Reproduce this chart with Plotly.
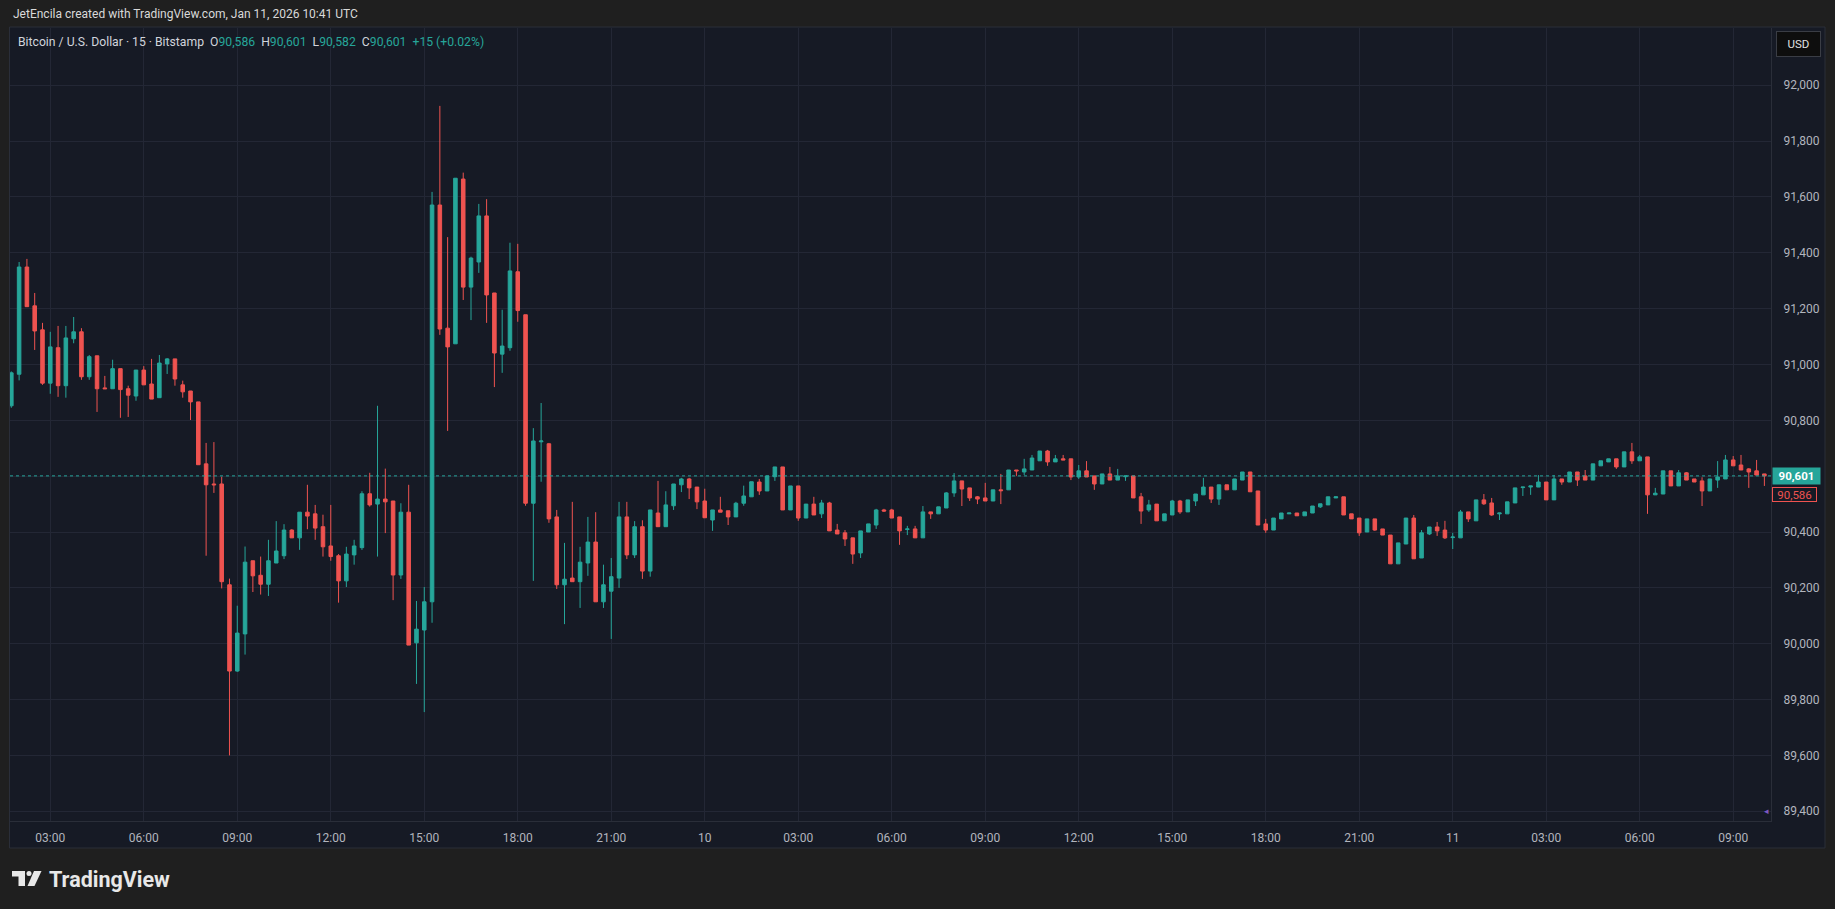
import pandas as pd
import plotly.graph_objects as go

# OHLC for each 15 minute candle
opens = [
    90852, 90965, 91349, 91210, 91124, 90933, 91060, 90924, 91092, 91117,
    90956, 91031, 90916, 90913, 90985, 90913, 90887, 90980, 90930, 90881,
    91002, 91020, 90927, 90905, 90866, 90644, 90572, 90572, 90211, 89902,
    90035, 90297, 90245, 90213, 90289, 90315, 90407, 90379, 90471, 90465,
    90419, 90350, 90315, 90225, 90318, 90344, 90537, 90500, 90518, 90511,
    90246, 90471, 90003, 90049, 90150, 91571, 91130, 91074, 91664, 91277,
    91367, 91532, 91256, 91037, 91060, 91332, 91178, 90503, 90723, 90716,
    90454, 90211, 90235, 90222, 90289, 90364, 90150, 90188, 90235, 90454,
    90318, 90419, 90260, 90468, 90419, 90494, 90569, 90590, 90561, 90511,
    90443, 90479, 90476, 90454, 90503, 90526, 90579, 90547, 90598, 90633,
    90479, 90565, 90450, 90500, 90465, 90504, 90407, 90397, 90379, 90325,
    90400, 90425, 90479, 90479, 90454, 90409, 90411, 90379, 90472, 90465,
    90486, 90540, 90583, 90558, 90526, 90522, 90511, 90551, 90551, 90622,
    90615, 90622, 90655, 90690, 90651, 90662, 90662, 90597, 90619, 90601,
    90572, 90608, 90586, 90598, 90601, 90526, 90479, 90500, 90440, 90461,
    90511, 90472, 90511, 90533, 90561, 90518, 90569, 90551, 90586, 90615,
    90547, 90429, 90407, 90447, 90465, 90468, 90458, 90468, 90490, 90497,
    90522, 90526, 90465, 90450, 90400, 90447, 90411, 90389, 90286, 90357,
    90450, 90307, 90393, 90418, 90407, 90380, 90379, 90472, 90440, 90515,
    90504, 90465, 90465, 90504, 90559, 90561, 90561, 90579, 90515, 90590,
    90579, 90615, 90601, 90586, 90637, 90651, 90662, 90633, 90687, 90655,
    90669, 90533, 90536, 90619, 90565, 90612, 90590, 90583, 90547, 90586,
    90590, 90658, 90640, 90626, 90619, 90608,
]
highs = [
    90975, 91367, 91378, 91256, 91149, 91117, 91138, 91138, 91170, 91130,
    91034, 91031, 90959, 91017, 90985, 90924, 90980, 90994, 91020, 91034,
    91023, 91020, 90942, 90905, 90866, 90719, 90722, 90598, 90233, 90136,
    90348, 90297, 90312, 90372, 90439, 90428, 90410, 90471, 90569, 90497,
    90462, 90497, 90321, 90347, 90372, 90546, 90612, 90852, 90627, 90511,
    90503, 90569, 90153, 90203, 91618, 91926, 91456, 91667, 91687, 91386,
    91575, 91592, 91256, 91196, 91436, 91432, 91178, 90772, 90862, 90719,
    90479, 90361, 90508, 90347, 90454, 90471, 90283, 90307, 90508, 90508,
    90439, 90442, 90479, 90583, 90546, 90572, 90594, 90594, 90561, 90555,
    90479, 90526, 90476, 90508, 90566, 90580, 90590, 90601, 90633, 90633,
    90565, 90565, 90500, 90526, 90515, 90508, 90429, 90407, 90379, 90404,
    90429, 90483, 90483, 90483, 90454, 90422, 90422, 90493, 90472, 90490,
    90543, 90611, 90583, 90558, 90529, 90576, 90551, 90608, 90622, 90622,
    90662, 90676, 90690, 90694, 90676, 90676, 90662, 90640, 90654, 90601,
    90608, 90633, 90626, 90601, 90601, 90540, 90515, 90500, 90465, 90515,
    90515, 90515, 90536, 90594, 90561, 90569, 90569, 90590, 90615, 90615,
    90547, 90447, 90450, 90468, 90468, 90468, 90472, 90493, 90501, 90526,
    90526, 90526, 90465, 90450, 90447, 90447, 90411, 90389, 90361, 90450,
    90461, 90407, 90418, 90436, 90440, 90397, 90479, 90472, 90515, 90536,
    90522, 90468, 90508, 90558, 90561, 90565, 90604, 90579, 90604, 90590,
    90615, 90615, 90622, 90644, 90655, 90662, 90662, 90687, 90719, 90676,
    90669, 90558, 90619, 90619, 90622, 90615, 90590, 90596, 90590, 90654,
    90676, 90672, 90676, 90629, 90658, 90608,
]
lows = [
    90845, 90943, 91207, 91052, 90927, 90895, 90884, 90881, 91076, 90945,
    90945, 90830, 90913, 90913, 90809, 90812, 90870, 90927, 90876, 90881,
    90966, 90924, 90881, 90801, 90641, 90315, 90540, 90198, 89600, 89899,
    89961, 90185, 90176, 90171, 90289, 90303, 90379, 90336, 90410, 90372,
    90312, 90297, 90147, 90203, 90283, 90336, 90491, 90312, 90396, 90156,
    90232, 89995, 89856, 89755, 90075, 91106, 90762, 91074, 91231, 91159,
    91328, 91149, 90919, 90970, 91049, 91153, 90494, 90225, 90580, 90433,
    90196, 90070, 90222, 90128, 90243, 90150, 90128, 90017, 90200, 90303,
    90307, 90232, 90240, 90419, 90419, 90479, 90543, 90518, 90482, 90451,
    90404, 90471, 90425, 90454, 90494, 90526, 90533, 90547, 90583, 90479,
    90479, 90440, 90450, 90461, 90450, 90404, 90393, 90350, 90286, 90307,
    90400, 90411, 90472, 90450, 90354, 90389, 90379, 90379, 90447, 90465,
    90486, 90526, 90493, 90511, 90500, 90511, 90511, 90500, 90551, 90601,
    90604, 90622, 90655, 90637, 90651, 90658, 90586, 90590, 90597, 90551,
    90572, 90586, 90586, 90583, 90522, 90429, 90472, 90440, 90440, 90461,
    90465, 90472, 90493, 90533, 90504, 90497, 90551, 90551, 90586, 90544,
    90425, 90397, 90407, 90447, 90465, 90458, 90458, 90468, 90486, 90497,
    90522, 90461, 90447, 90386, 90400, 90404, 90389, 90286, 90286, 90357,
    90304, 90307, 90389, 90386, 90375, 90339, 90379, 90436, 90440, 90497,
    90458, 90443, 90465, 90504, 90529, 90533, 90561, 90515, 90515, 90569,
    90579, 90565, 90586, 90586, 90637, 90651, 90626, 90633, 90644, 90655,
    90465, 90533, 90536, 90565, 90565, 90586, 90579, 90493, 90547, 90558,
    90590, 90637, 90622, 90558, 90604, 90565,
]
closes = [
    90970, 91349, 91207, 91120, 90933, 91063, 90924, 91095, 91117, 90956,
    91028, 90913, 90913, 90985, 90910, 90890, 90980, 90927, 90876, 91005,
    91020, 90948, 90902, 90866, 90641, 90569, 90569, 90222, 89902, 90038,
    90292, 90243, 90213, 90297, 90332, 90407, 90379, 90471, 90457, 90414,
    90347, 90312, 90225, 90321, 90350, 90537, 90497, 90518, 90508, 90246,
    90471, 89995, 90052, 90150, 91571, 91127, 91063, 91667, 91277, 91381,
    91532, 91249, 91041, 91066, 91335, 91193, 90503, 90726, 90726, 90447,
    90211, 90231, 90222, 90292, 90364, 90150, 90211, 90240, 90454, 90318,
    90419, 90260, 90479, 90419, 90497, 90572, 90590, 90558, 90508, 90451,
    90479, 90471, 90454, 90503, 90529, 90580, 90547, 90601, 90633, 90479,
    90565, 90450, 90500, 90461, 90504, 90404, 90393, 90375, 90321, 90404,
    90429, 90479, 90475, 90450, 90404, 90411, 90379, 90472, 90465, 90490,
    90540, 90583, 90554, 90522, 90518, 90511, 90551, 90548, 90622, 90619,
    90626, 90665, 90690, 90651, 90662, 90658, 90597, 90619, 90597, 90572,
    90608, 90586, 90601, 90601, 90522, 90475, 90497, 90440, 90465, 90511,
    90472, 90515, 90536, 90561, 90518, 90569, 90551, 90590, 90615, 90544,
    90425, 90407, 90450, 90468, 90468, 90458, 90472, 90493, 90501, 90526,
    90526, 90461, 90447, 90397, 90447, 90407, 90389, 90286, 90361, 90450,
    90304, 90397, 90418, 90404, 90379, 90382, 90472, 90447, 90515, 90501,
    90461, 90468, 90508, 90558, 90561, 90565, 90579, 90515, 90590, 90579,
    90615, 90586, 90586, 90644, 90655, 90662, 90633, 90687, 90655, 90669,
    90533, 90539, 90619, 90565, 90612, 90586, 90579, 90547, 90590, 90597,
    90658, 90637, 90622, 90615, 90604, 90601,
]

# header values
hdr_open, hdr_high, hdr_low, hdr_close = 90586, 90601, 90582, 90601
hdr_change = "+15 (+0.02%)"
second_label = 90586

times = pd.date_range("2026-01-09 01:45", periods=len(opens), freq="15min")
tick_times = pd.date_range("2026-01-09 03:00", "2026-01-11 09:00", freq="3h")
tick_labels = [str(t.day) if t.hour == 0 else t.strftime("%H:%M") for t in tick_times]
price_ticks = list(range(89400, 92001, 200))

UP = "#26a69a"
DOWN = "#ef5350"
PANEL = "#161a25"
OUTER = "#1f1f1f"
GRID = "#232735"
BORDER = "#2a2e39"
TXT = "#b2b5be"
FONT = "Roboto"

# page geometry (px)
W, H = 1835, 909
ML, MR, MT, MB = 10, 64, 28, 88
PW, PH = W - ML - MR, H - MT - MB


def fx(x):
    return (x - ML) / PW


def fy(y):
    return (H - MB - y) / PH


fig = go.Figure()
fig.add_trace(go.Candlestick(
    x=times, open=opens, high=highs, low=lows, close=closes,
    increasing=dict(line=dict(color=UP, width=1), fillcolor=UP),
    decreasing=dict(line=dict(color=DOWN, width=1), fillcolor=DOWN),
    whiskerwidth=0, hoverinfo="skip", showlegend=False,
))

step = pd.Timedelta(minutes=15)
x_range = [times[0] - 0.17 * step, times[0] + 225.85 * step]

shapes = [
    # chart panel
    dict(type="rect", xref="paper", yref="paper", x0=fx(9.5), x1=fx(1825),
         y0=fy(848), y1=fy(27), fillcolor=PANEL, line=dict(color=BORDER, width=1),
         layer="below"),
    # last price line
    dict(type="line", xref="paper", yref="y", x0=0, x1=1, y0=closes[-1], y1=closes[-1],
         line=dict(color=UP, width=1, dash="dot")),
    # TradingView logo mark
    dict(type="path", xref="paper", yref="paper", line=dict(width=0), fillcolor="#e8e8e8",
         path="M {},{} L {},{} L {},{} L {},{} L {},{} L {},{} Z".format(
             fx(12), fy(871), fx(25), fy(871), fx(25), fy(886), fx(18.5), fy(886),
             fx(18.5), fy(876.5), fx(12), fy(876.5))),
    dict(type="circle", xref="paper", yref="paper", line=dict(width=0), fillcolor="#e8e8e8",
         x0=fx(26.5), x1=fx(31.5), y0=fy(876), y1=fy(871)),
    dict(type="path", xref="paper", yref="paper", line=dict(width=0), fillcolor="#e8e8e8",
         path="M {},{} L {},{} L {},{} L {},{} Z".format(
             fx(34), fy(871), fx(41.5), fy(871), fx(34.5), fy(886), fx(27.5), fy(886))),
]

legend_txt = (
    "Bitcoin / U.S. Dollar · 15 · Bitstamp"
    f"  O<span style='color:{UP}'>{hdr_open:,}</span>"
    f"  H<span style='color:{UP}'>{hdr_high:,}</span>"
    f"  L<span style='color:{UP}'>{hdr_low:,}</span>"
    f"  C<span style='color:{UP}'>{hdr_close:,}</span>"
    f"  <span style='color:{UP}'>{hdr_change}</span>"
)

annotations = [
    dict(text="JetEncila created with TradingView.com, Jan 11, 2026 10:41 UTC",
         xref="paper", yref="paper", x=fx(11), y=fy(14), xanchor="left", yanchor="middle",
         showarrow=False, font=dict(family=FONT, size=12, color="#d9d9d9")),
    dict(text=legend_txt, xref="paper", yref="paper", x=fx(16), y=fy(42),
         xanchor="left", yanchor="middle", showarrow=False,
         font=dict(family=FONT, size=12.2, color="#d1d4dc")),
    dict(text="USD", xref="paper", yref="paper", x=fx(1798.5), y=fy(44),
         xanchor="center", yanchor="middle", showarrow=False, width=39, height=20,
         borderpad=2, bgcolor="#0e0e0e", bordercolor="#3a3d45", borderwidth=1,
         font=dict(family=FONT, size=11.5, color="#e0e0e0")),
    dict(text=f"<b>{closes[-1]:,}</b>", xref="paper", yref="y", x=fx(1772), y=closes[-1],
         xanchor="left", yanchor="middle", showarrow=False, width=45, height=14,
         bgcolor=UP, borderpad=1, font=dict(family=FONT, size=11.5, color="#ffffff")),
    # stacked just under the last price label, as the price scale does
    dict(text=f"{second_label:,}", xref="paper", yref="y", x=fx(1772), y=second_label - 53,
         xanchor="left", yanchor="middle", showarrow=False, width=43, height=13,
         bgcolor=PANEL, bordercolor=DOWN, borderwidth=1, borderpad=0,
         font=dict(family=FONT, size=11.5, color=DOWN)),
    dict(text="◂", xref="paper", yref="paper", x=fx(1766), y=fy(810), xanchor="center",
         yanchor="middle", showarrow=False, font=dict(size=9, color="#7e57c2")),
    dict(text="<b>TradingView</b>", xref="paper", yref="paper", x=fx(47), y=fy(879),
         xanchor="left", yanchor="middle", showarrow=False,
         font=dict(family=FONT, size=21.5, color="#e8e8e8")),
]

fig.update_layout(
    width=W, height=H,
    margin=dict(l=ML, r=MR, t=MT, b=MB),
    paper_bgcolor=OUTER, plot_bgcolor=PANEL,
    boxgap=0.35,
    shapes=shapes, annotations=annotations,
    xaxis=dict(
        type="date", range=x_range, rangeslider=dict(visible=False),
        tickvals=tick_times, ticktext=tick_labels, ticks="", ticklabelstandoff=6,
        showgrid=True, gridcolor=GRID, gridwidth=1, zeroline=False,
        showline=True, linecolor=BORDER, linewidth=1,
        tickfont=dict(family=FONT, size=12, color=TXT), fixedrange=True,
    ),
    yaxis=dict(
        side="right", range=[89365, 92205], tickvals=price_ticks, tickformat=",d",
        ticks="", ticklabelstandoff=9, showgrid=True, gridcolor=GRID, gridwidth=1,
        zeroline=False, showline=True, linecolor=BORDER, linewidth=1,
        tickfont=dict(family=FONT, size=12, color=TXT), fixedrange=True,
    ),
)

# page margin off so the figure sits at the window corner
fig.write_html("out.html", config={"displayModeBar": False},
               post_script="document.body.style.margin='0';")
